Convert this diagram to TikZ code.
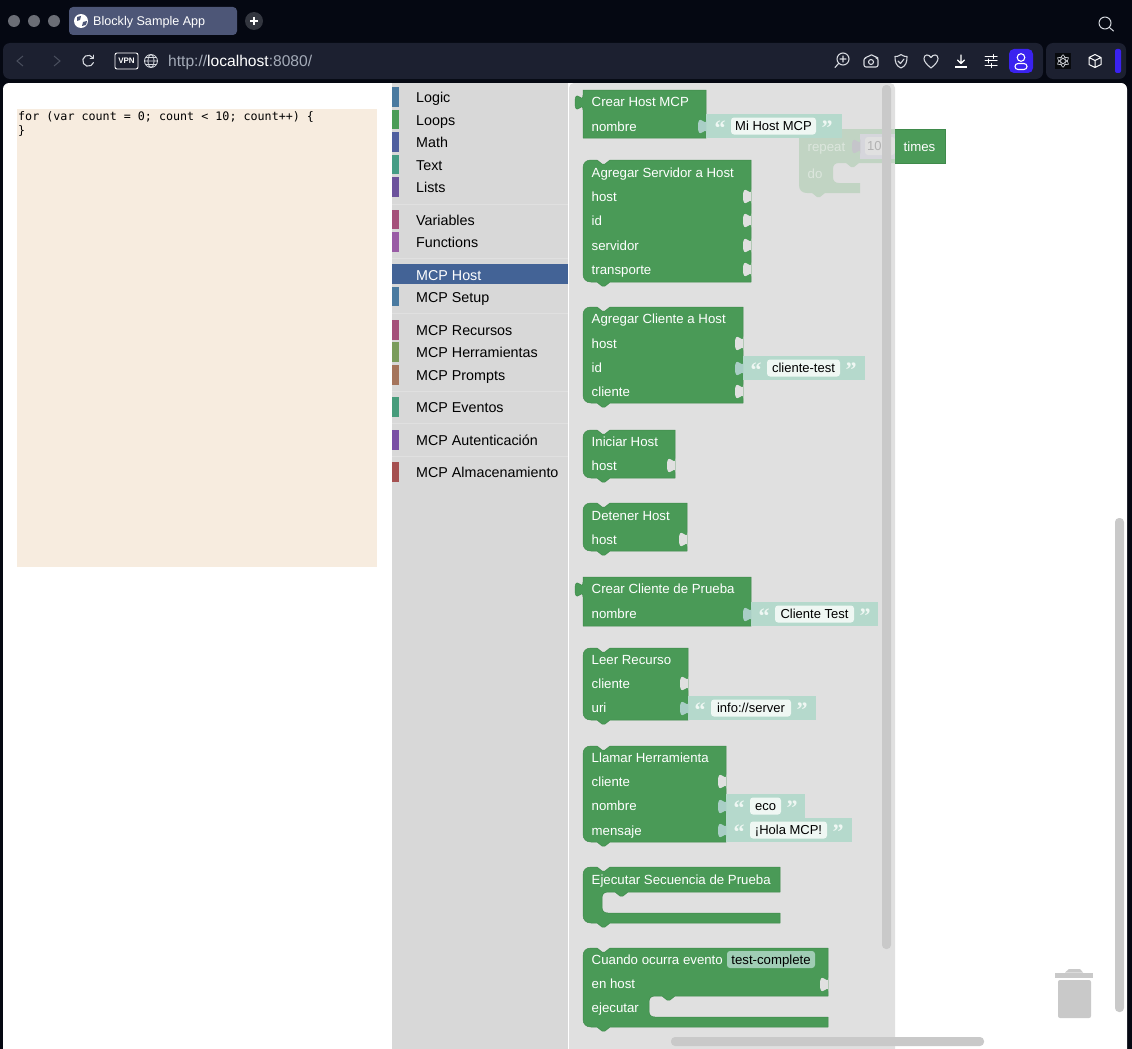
\documentclass[tikz,border=0pt]{standalone}
\usepackage{fontspec}
\setmainfont{Liberation Sans}
\newfontfamily\codefont{DejaVu Sans Mono}
\newfontfamily\quotefont{Liberation Serif}
\definecolor{chrome}{HTML}{050812}
\definecolor{barcol}{HTML}{1C2030}
\definecolor{tabcol}{HTML}{4D5677}
\definecolor{lightcol}{HTML}{6B6E76}
\definecolor{pluscol}{HTML}{33363F}
\definecolor{iconcol}{HTML}{D5D8DE}
\definecolor{dimcol}{HTML}{4A4F5E}
\definecolor{urlcol}{HTML}{A4ABB8}
\definecolor{blueuser}{HTML}{3A22F0}
\definecolor{codebg}{HTML}{F7ECDF}
\definecolor{toolbg}{HTML}{D8D8D8}
\definecolor{flybg}{HTML}{E0E0E0}
\definecolor{scrollcol}{HTML}{C9C9C9}
\definecolor{selcol}{HTML}{436396}
\definecolor{blockcol}{HTML}{4A9A57}
\definecolor{blockedge}{HTML}{3F8A4B}
\definecolor{strcol}{HTML}{B5D9CC}
\definecolor{strtab}{HTML}{A9CEC6}
\definecolor{fieldcol}{HTML}{EFF7F3}
\definecolor{ghostcol}{HTML}{C1D4C3}
\definecolor{ghosttext}{HTML}{DCE6DD}
\definecolor{ghostnumcol}{HTML}{D6D6DC}
\definecolor{catlogic}{HTML}{4A7AA0}
\definecolor{catloops}{HTML}{4A9C56}
\definecolor{catmath}{HTML}{4F5F9F}
\definecolor{cattext}{HTML}{459C85}
\definecolor{catlists}{HTML}{6C529C}
\definecolor{catvars}{HTML}{A5507A}
\definecolor{catfuncs}{HTML}{995BA5}
\definecolor{cattools}{HTML}{7A9C5B}
\definecolor{catprompts}{HTML}{A5745B}
\definecolor{catevents}{HTML}{479C7B}
\definecolor{catauth}{HTML}{7A4FA5}
\definecolor{catstore}{HTML}{A55050}
\tikzset{
  blockbody/.style={fill=blockcol,draw=blockedge,line width=.5pt,line join=round},
  blocklabel/.style={anchor=west,inner sep=0pt,xshift=.5pt,text=white,text height=12pt,text depth=1pt,font=\fontsize{13.25}{13.25}\selectfont},
  fieldtext/.style={inner sep=0pt,text=black,text height=10.5pt,text depth=1.5pt,font=\fontsize{13}{13}\selectfont},
  catlabel/.style={anchor=west,inner sep=0pt,text=black,text height=12pt,text depth=1pt,font=\fontsize{14.3}{14.3}\selectfont},
  quotemark/.style={inner sep=0pt,text=fieldcol,font=\quotefont\bfseries\fontsize{22}{22}\selectfont},
  iconline/.style={draw=iconcol,line width=1.1pt,line cap=round,line join=round},
}
% tab on the lower edge, walking left
\newcommand{\tabdown}{-- ++(-5,4) -- ++(-3,0) -- ++(-5,-4)}
% notch in the upper edge, walking right
\newcommand{\notchtop}{-- ++(5,4) -- ++(3,0) -- ++(5,-4)}
% x1 y1 x2 y2
\newcommand{\hatblock}[4]{
  \draw[blockbody] (#1,#2+8) .. controls (#1,#2+3) and (#1+3,#2) .. (#1+8,#2) -- (#1+14,#2) \notchtop -- (#3,#2) -- (#3,#4) -- (#1+27,#4) \tabdown -- (#1+8,#4) .. controls (#1+3,#4) and (#1,#4-3) .. (#1,#4-8) -- cycle;
}
% x1 y1 x2 y2, with an output tab on the left
\newcommand{\outblock}[4]{
  \draw[blockbody] (#1,#2) -- (#3,#2) -- (#3,#4) -- (#1,#4) -- (#1,#2+20) .. controls (#1,#2+10) and (#1-8,#2+28) .. (#1-8,#2+12.5) .. controls (#1-8,#2-3) and (#1,#2+15) .. (#1,#2+5) -- cycle;
}
% x1 y1 x2 y2 innerx innertop innerbottom
\newcommand{\cblock}[7]{
  \draw[blockbody] (#1,#2+8) .. controls (#1,#2+3) and (#1+3,#2) .. (#1+8,#2) -- (#1+14,#2) \notchtop -- (#3,#2) -- (#3,#6) -- (#5+26,#6) \tabdown -- (#5+6,#6) .. controls (#5+2,#6) and (#5,#6+2) .. (#5,#6+6) -- (#5,#7-6) .. controls (#5,#7-2) and (#5+2,#7) .. (#5+6,#7) -- (#3,#7) -- (#3,#4) -- (#1+27,#4) \tabdown -- (#1+8,#4) .. controls (#1+3,#4) and (#1,#4-3) .. (#1,#4-8) -- cycle;
}
% x y colour: puzzle piece on a right edge
\newcommand{\puzzle}[3]{
  \fill[#3] (#1+.4,#2-7) .. controls (#1+.4,#2+3) and (#1-8,#2-15) .. (#1-8,#2+.5) .. controls (#1-8,#2+16) and (#1+.4,#2-2) .. (#1+.4,#2+8) -- cycle;
}
% name x1 x2 y fieldx1 fieldx2 text
\newcommand{\strblock}[7]{
  \fill[strcol] (#2,#4-12) rectangle (#3,#4+12);
  \puzzle{#2}{#4}{strtab}
  \fill[fieldcol,rounded corners=3pt] (#5,#4-8.5) rectangle (#6,#4+8.5);
  \node[fieldtext] (#1) at ({(#5+#6)/2},#4) {#7};
  \node[quotemark] (#1open) at (#5-11,#4+2) {“};
  \node[quotemark] (#1close) at (#6+11,#4+2) {”};
}
% name y colour text
\newcommand{\category}[4]{
  \fill[#3] (392,#2-10) rectangle (399,#2+9.5);
  \node[catlabel] (#1) at (416,#2) {#4};
}
\newcommand{\catsep}[1]{\draw[line width=1pt,color=flybg] (392,#1) -- (568,#1);}
\begin{document}
\begin{tikzpicture}[x=1pt,y=-1pt]
\useasboundingbox (0,0) rectangle (1132,1049);
\fill[chrome] (0,0) rectangle (1132,1049);
% tab strip
\fill[lightcol] (14,21) circle (6);
\fill[lightcol] (34,21) circle (6);
\fill[lightcol] (54,21) circle (6);
\fill[tabcol,rounded corners=4pt] (69,7) rectangle (237,35);
\fill[white] (81,21) circle (7);
\fill[tabcol] (77,17) -- (81,16) -- (80,20) -- (77,21) -- cycle;
\fill[tabcol] (83,22) -- (87,21) -- (86,25) -- (82,26) -- cycle;
\node[anchor=west,inner sep=0pt,text=white,font=\fontsize{12.6}{12.6}\selectfont,text height=11pt,text depth=1pt] (tabtitle) at (93,21) {Blockly Sample App};
\fill[pluscol] (254,21) circle (9);
\draw[white,line width=1.6pt] (250,21) -- (258,21) (254,17) -- (254,25);
\draw[iconline,line width=1pt] (1105,23) circle (6) (1110,28) -- (1113.5,31);
% address bar
\fill[barcol,rounded corners=7pt] (3,43) rectangle (1043,79);
\fill[barcol,rounded corners=7pt] (1046,43) rectangle (1126,79);
\draw[dimcol,line width=1pt] (23,56) -- (17,61) -- (23,66);
\draw[dimcol,line width=1pt] (54,56) -- (60,61) -- (54,66);
\draw[iconline] (93,58) arc (-30:-340:5.5);
\draw[iconline,line width=.9pt] (93.5,55) -- (93.5,58.5) -- (90,58.5);
\draw[white,line width=.9pt,rounded corners=2pt] (115,53) rectangle (138,69);
\node[inner sep=0pt,text=white,font=\bfseries\fontsize{8}{8}\selectfont] (vpnlabel) at (126.5,61) {VPN};
\draw[iconline,line width=.8pt] (151,61) circle (6.5) (151,61) ellipse (3 and 6.5) (144.5,61) -- (157.5,61) (145.5,57.5) -- (156.5,57.5) (145.5,64.5) -- (156.5,64.5);
\node[anchor=west,inner sep=0pt,font=\fontsize{15.6}{15.6}\selectfont,text=urlcol,text height=12pt,text depth=1pt] (urltext) at (168,61) {http://\textcolor{white}{localhost}:8080/};
% toolbar icons
\draw[iconline] (843,59) circle (6) (838.5,63.5) -- (835,67.5) (843,56) -- (843,62) (840,59) -- (846,59);
\draw[iconline,rounded corners=2pt] (864,58) -- (867,58) -- (869,55) -- (874,55) -- (876,58) -- (878,58) -- (878,67) -- (864,67) -- cycle;
\draw[iconline] (871,62) circle (2.5);
\draw[iconline] (901,54.5) .. controls (898,56.5) and (897,56.5) .. (895,56.5) .. controls (895,62) and (896,66) .. (901,68) .. controls (906,66) and (907,62) .. (907,56.5) .. controls (905,56.5) and (904,56.5) .. (901,54.5) -- cycle (898,61) -- (900.5,63.5) -- (904,59);
\draw[iconline] (931,68) .. controls (926,64) and (924,61) .. (924,58.5) .. controls (924,54) and (929,54) .. (931,57.5) .. controls (933,54) and (938,54) .. (938,58.5) .. controls (938,61) and (936,64) .. (931,68) -- cycle;
\draw[iconline,draw=white] (961,55) -- (961,63) (957.5,60) -- (961,63.5) -- (964.5,60);
\draw[white,line width=1.4pt] (955,67) -- (967,67);
\draw[iconline,draw=white,line width=1pt] (985,56.5) -- (997,56.5) (985,61) -- (997,61) (985,65.5) -- (997,65.5) (993,54.5) -- (993,58.5) (988,59) -- (988,63) (991,63.5) -- (991,67.5);
\fill[blueuser,rounded corners=5pt] (1009,49) rectangle (1033,73);
\draw[white,line width=1.1pt] (1021,57.5) circle (3.8);
\draw[white,line width=1.1pt,rounded corners=3pt] (1015,63.5) rectangle (1027,69.5);
\fill[black!70!barcol] (1055,53.5) rectangle (1071,69);
\draw[iconcol,line width=.6pt] (1063,61) ellipse (2.3 and 6.3);
\draw[iconcol,line width=.6pt,rotate around={60:(1063,61)}] (1063,61) ellipse (2.3 and 6.3);
\draw[iconcol,line width=.6pt,rotate around={120:(1063,61)}] (1063,61) ellipse (2.3 and 6.3);
\draw[iconline,draw=white,line width=1pt] (1095,54.5) -- (1101,57.5) -- (1101,64.5) -- (1095,67.5) -- (1089,64.5) -- (1089,57.5) -- cycle (1089,57.5) -- (1095,60.5) -- (1101,57.5) (1095,60.5) -- (1095,67.5);
\fill[blueuser,rounded corners=2pt] (1115,49) rectangle (1121,73);
% page
\fill[white,rounded corners=6pt] (3,83) rectangle (1127,1060);
\fill[codebg] (17,109) rectangle (377,567);
\node[anchor=base west,inner sep=0pt,text=black,font=\codefont\fontsize{11.7}{11.7}\selectfont] (codeone) at (18,120) {for (var count = 0; count < 10; count++) \{};
\node[anchor=base west,inner sep=0pt,text=black,font=\codefont\fontsize{11.7}{11.7}\selectfont] (codetwo) at (18,134) {\}};
% toolbox
\fill[toolbg] (392,83) rectangle (568,1049);
\fill[selcol] (392,264) rectangle (568,284);
\category{catLogic}{97}{catlogic}{Logic}
\category{catLoops}{119.5}{catloops}{Loops}
\category{catMath}{142}{catmath}{Math}
\category{catText}{164.5}{cattext}{Text}
\category{catLists}{187}{catlists}{Lists}
\catsep{204.5}
\category{catVariables}{219.5}{catvars}{Variables}
\category{catFunctions}{242}{catfuncs}{Functions}
\catsep{258}
\node[catlabel,text=white] (catHost) at (416,275) {MCP Host};
\category{catSetup}{296.5}{catlogic}{MCP Setup}
\catsep{313}
\category{catRecursos}{330}{catvars}{MCP Recursos}
\category{catTools}{352}{cattools}{MCP Herramientas}
\category{catPrompts}{375}{catprompts}{MCP Prompts}
\catsep{391}
\category{catEventos}{407}{catevents}{MCP Eventos}
\catsep{423}
\category{catAuth}{440}{catauth}{MCP Autenticación}
\catsep{456}
\category{catStore}{472}{catstore}{MCP Almacenamiento}
% flyout
\draw[white,line width=1pt] (568.5,83) -- (568.5,1049);
\fill[flybg,rounded corners=5pt] (569,83) -- (895,83) -- (895,1060) -- (569,1060) -- cycle;
% dragged repeat block behind the flyout
\fill[ghostcol] (799,137) .. controls (799,132) and (802,129) .. (807,129) -- (895,129) -- (895,163) -- (859,163) \tabdown -- (839,163) .. controls (835,163) and (833,165) .. (833,169) -- (833,177) .. controls (833,181) and (835,183) .. (839,183) -- (860,183) -- (860,193) -- (825,193) \tabdown -- (807,193) .. controls (802,193) and (799,190) .. (799,185) -- cycle;
\fill[ghostnumcol] (860,134) rectangle (895,159);
\puzzle{860}{146}{ghostnumcol!92!black}
\fill[flybg,rounded corners=3pt] (865,137) rectangle (895,155);
\node[anchor=west,inner sep=0pt,text=black!30,font=\fontsize{13}{13}\selectfont] (ghostnum) at (867,146) {10};
\node[blocklabel,text=ghosttext] (ghostrepeat) at (807,145.5) {repeat};
\node[blocklabel,text=ghosttext] (ghostdo) at (807,173) {do};
\fill[blockcol] (895,129) rectangle (945,163);
\draw[blockedge,line width=.5pt] (895,129) -- (945,129) -- (945,163) -- (895,163);
\node[blocklabel] (ghosttimes) at (903,145.5) {times};
% scrollbars
\fill[scrollcol,rounded corners=4pt] (882,85) rectangle (891,949);
\fill[scrollcol,rounded corners=4pt] (1115,518) rectangle (1124,1012);
\fill[scrollcol,rounded corners=4pt] (671,1037) rectangle (984,1046);
% Crear Host MCP
\outblock{583}{90}{706}{138}
\node[blocklabel] (hostTitle) at (591,101) {Crear Host MCP};
\node[blocklabel] (hostNombre) at (591,126) {nombre};
\strblock{hostStr}{706}{842}{126}{731}{816}{Mi Host MCP}
% Agregar Servidor a Host
\hatblock{583}{160}{751}{282}
\node[blocklabel] (servTitle) at (591,172) {Agregar Servidor a Host};
\node[blocklabel] (servHost) at (591,196) {host};
\node[blocklabel] (servId) at (591,220) {id};
\node[blocklabel] (servServidor) at (591,245) {servidor};
\node[blocklabel] (servTransporte) at (591,269) {transporte};
\puzzle{751}{196}{flybg}
\puzzle{751}{220}{flybg}
\puzzle{751}{245}{flybg}
\puzzle{751}{269}{flybg}
% Agregar Cliente a Host
\hatblock{583}{307}{743}{403}
\node[blocklabel] (cliTitle) at (591,318) {Agregar Cliente a Host};
\node[blocklabel] (cliHost) at (591,343) {host};
\node[blocklabel] (cliId) at (591,367) {id};
\node[blocklabel] (cliCliente) at (591,391) {cliente};
\puzzle{743}{343}{flybg}
\puzzle{743}{391}{flybg}
\strblock{cliStr}{743}{865}{368}{767}{840}{cliente-test}
% Iniciar Host
\hatblock{583}{430}{675}{478}
\node[blocklabel] (iniTitle) at (591,441) {Iniciar Host};
\node[blocklabel] (iniHost) at (591,465) {host};
\puzzle{675}{465}{flybg}
% Detener Host
\hatblock{583}{503}{687}{551}
\node[blocklabel] (detTitle) at (591,515) {Detener Host};
\node[blocklabel] (detHost) at (591,539) {host};
\puzzle{687}{539}{flybg}
% Crear Cliente de Prueba
\outblock{583}{577}{751}{626}
\node[blocklabel] (pruTitle) at (591,588) {Crear Cliente de Prueba};
\node[blocklabel] (pruNombre) at (591,613) {nombre};
\strblock{pruStr}{751}{878}{614}{775}{854}{Cliente Test}
% Leer Recurso
\hatblock{583}{648}{688}{720}
\node[blocklabel] (recTitle) at (591,659) {Leer Recurso};
\node[blocklabel] (recCliente) at (591,683) {cliente};
\node[blocklabel] (recUri) at (591,707) {uri};
\puzzle{688}{683}{flybg}
\strblock{recStr}{688}{816}{708}{711}{791}{info://server}
% Llamar Herramienta
\hatblock{583}{746}{726}{842}
\node[blocklabel] (herTitle) at (591,757) {Llamar Herramienta};
\node[blocklabel] (herCliente) at (591,781) {cliente};
\node[blocklabel] (herNombre) at (591,805) {nombre};
\node[blocklabel] (herMensaje) at (591,830) {mensaje};
\puzzle{726}{781}{flybg}
\strblock{herEco}{726}{805}{806}{750}{781}{eco}
\strblock{herHola}{726}{852}{830}{750}{827}{¡Hola MCP!}
% Ejecutar Secuencia de Prueba
\cblock{583}{867}{780}{923}{602}{892}{913}
\node[blocklabel] (secTitle) at (591,879) {Ejecutar Secuencia de Prueba};
% Cuando ocurra evento
\cblock{583}{948}{828}{1027}{649}{996}{1017}
\node[blocklabel] (evtTitle) at (591,959) {Cuando ocurra evento};
\fill[strcol!80!blockcol,rounded corners=3pt] (727,951) rectangle (815,968);
\node[fieldtext,font=\fontsize{13.2}{13.2}\selectfont] (evtField) at (771,959.5) {test-complete};
\node[blocklabel] (evtHost) at (591,983) {en host};
\node[blocklabel] (evtEjecutar) at (591,1007) {ejecutar};
\puzzle{828}{984}{flybg}
% trash
\fill[scrollcol] (1055,972.5) rectangle (1093,977.5);
\fill[scrollcol] (1065,972.5) -- (1069,969) -- (1080,969) -- (1083,972.5) -- cycle;
\fill[scrollcol,rounded corners=2pt] (1058,980) -- (1091,980) -- (1091,1018) -- (1058,1018) -- cycle;
\end{tikzpicture}
\end{document}
